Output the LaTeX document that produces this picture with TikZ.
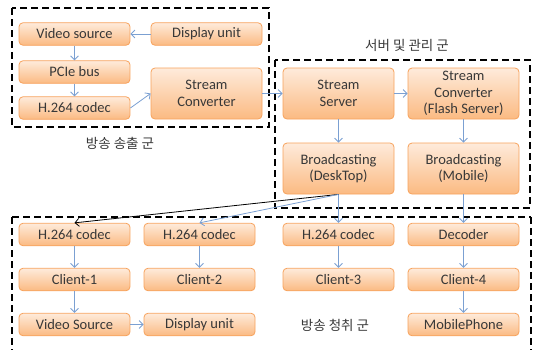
\documentclass[tikz,border=0pt]{standalone}
\usepackage{fontspec}
\setmainfont{Carlito}
\newfontfamily\kr{Noto Sans CJK KR}
\usetikzlibrary{arrows.meta}
\definecolor{boxline}{HTML}{F7A25C}
\definecolor{boxtop}{HTML}{FEEBDB}
\definecolor{boxbot}{HTML}{FBBA82}
\definecolor{flow}{HTML}{7BA0D2}
\definecolor{ink}{HTML}{383838}
\tikzset{
  unit/.style={draw=boxline, line width=0.8pt, rounded corners=4pt,
    top color=boxtop, bottom color=boxbot, minimum width=111pt,
    minimum height=22.5pt, inner sep=0pt, align=center, text=ink,
    font=\fontsize{14.5}{16.5}\selectfont},
  tall/.style={unit, minimum height=51pt},
  flowarrow/.style={draw=flow, line width=0.8pt,
    -{Straight Barb[length=4pt,width=8pt,line width=0.8pt]}},
  darkarrow/.style={draw=black, line width=0.8pt,
    -{Straight Barb[length=4pt,width=8pt,line width=0.8pt]}},
  group/.style={draw=black, line width=2.6pt, dash pattern=on 7pt off 4pt},
  grouplabel/.style={font=\kr\fontsize{13.5}{15}\selectfont, text=ink}
}
\begin{document}
\begin{tikzpicture}[x=1pt,y=-1pt]
\useasboundingbox (0,0) rectangle (533,349);

% group frames
\draw[group] (12,8) rectangle (269,127);
\draw[group] (275,60) rectangle (530,208);
\draw[group] (12,217) -- (531,217) (12,217) -- (12,362) (531,217) -- (531,362);

% broadcasting source group
\node[unit] (vsrc) at (74.5,34) {Video source};
\node[unit] (disp) at (206.5,34) {Display unit};
\node[unit] (pcie) at (74.5,72) {PCIe bus};
\node[unit] (enc) at (74.5,108) {H.264 codec};
\node[tall] (conv) at (206.5,93.5) {Stream\\Converter};
\node[grouplabel] (lsrc) at (120,143) {방송 송출 군};

% server and management group
\node[tall] (srv) at (338.5,93.5) {Stream\\Server};
\node[tall] (flash) at (463.5,93.5) {Stream\\Converter\\(Flash Server)};
\node[tall] (bdesk) at (338.5,168.5) {Broadcasting\\(DeskTop)};
\node[tall] (bmob) at (463.5,168.5) {Broadcasting\\(Mobile)};
\node[grouplabel] (lsrv) at (407,45) {서버 및 관리 군};

% receiving group
\node[unit] (dec1) at (74.5,234.5) {H.264 codec};
\node[unit] (dec2) at (199.5,234.5) {H.264 codec};
\node[unit] (dec3) at (338.5,234.5) {H.264 codec};
\node[unit] (dec4) at (463.5,234.5) {Decoder};
\node[unit] (cl1) at (74.5,279.5) {Client-1};
\node[unit] (cl2) at (199.5,279.5) {Client-2};
\node[unit] (cl3) at (338.5,279.5) {Client-3};
\node[unit] (cl4) at (463.5,279.5) {Client-4};
\node[unit] (vout) at (74.5,324.5) {Video Source};
\node[unit] (dout) at (199.5,324.5) {Display unit};
\node[unit] (phone) at (463.5,324.5) {MobilePhone};
\node[grouplabel] (lrcv) at (335,325) {방송 청취 군};

% connectors
\draw[flowarrow] (disp) -- (vsrc);
\draw[flowarrow] (vsrc) -- (pcie);
\draw[flowarrow] (pcie) -- (enc);
\draw[flowarrow] (enc.east) -- (conv.west);
\draw[flowarrow] (conv) -- (srv);
\draw[flowarrow] (srv) -- (flash);
\draw[flowarrow] (srv) -- (bdesk);
\draw[flowarrow] (flash) -- (bmob);
\draw[flowarrow] (bdesk.south) -- (dec3.north);
\draw[darkarrow] (bdesk.south) -- (dec1.north);
\draw[flowarrow] (bdesk.south) -- (dec2.north);
\draw[flowarrow] (bmob) -- (dec4);
\draw[flowarrow] (dec1) -- (cl1);
\draw[flowarrow] (dec2) -- (cl2);
\draw[flowarrow] (dec3) -- (cl3);
\draw[flowarrow] (dec4) -- (cl4);
\draw[flowarrow] (cl1) -- (vout);
\draw[flowarrow] (vout) -- (dout);
\draw[flowarrow] (cl4) -- (phone);
\end{tikzpicture}
\end{document}
